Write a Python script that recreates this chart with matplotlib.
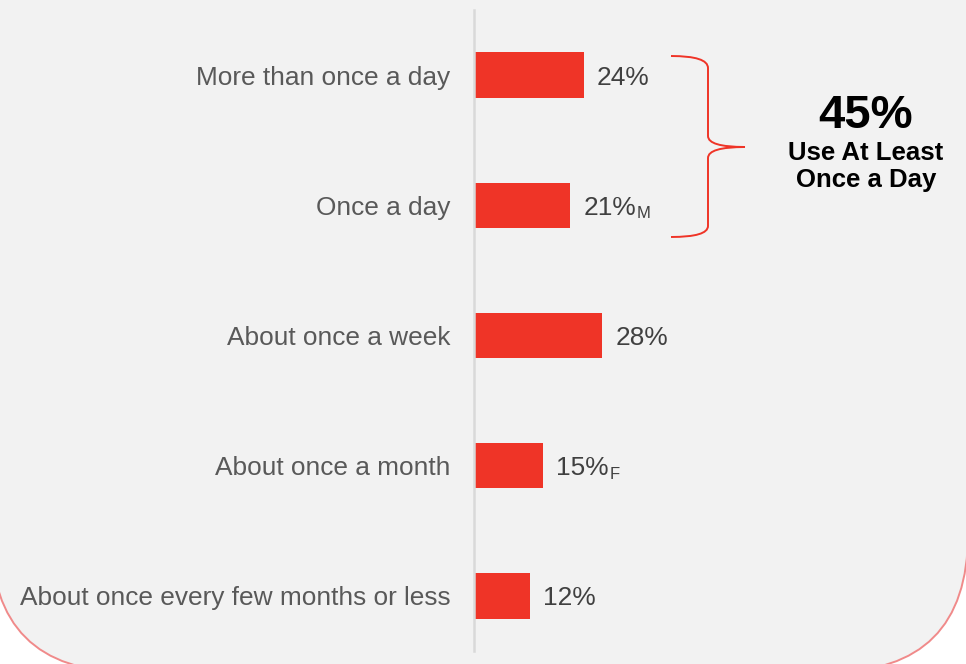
import matplotlib
matplotlib.use("Agg")
import matplotlib.pyplot as plt
from matplotlib.patches import FancyBboxPatch, PathPatch
from matplotlib.path import Path

plt.rcParams['font.family'] = ['Liberation Sans', 'DejaVu Sans']

categories = ["More than once a day", "Once a day", "About once a week",
              "About once a month", "About once every few months or less"]
values = [24, 21, 28, 15, 12]
subscripts = ["", "M", "", "F", ""]
total_label = "45%"
total_text = ["Use At Least", "Once a Day"]

RED = "#ef3427"
W, H = 966, 664

fig = plt.figure(figsize=(W / 100, H / 100), dpi=100, facecolor="white")

# background panel with rounded bottom corners (pixel coords)
bg = fig.add_axes([0, 0, 1, 1])
bg.set_xlim(0, W)
bg.set_ylim(H, 0)
bg.axis("off")
panel = FancyBboxPatch((-9, -300), 977, 972,
                       boxstyle="round,pad=0,rounding_size=138",
                       facecolor="#f2f2f2", edgecolor="#f08a8a", lw=1.4)
bg.add_patch(panel)

# brace
verts = [(671, 56), (708, 56), (708, 68), (708, 136), (708, 147), (745, 147),
         (708, 147), (708, 158), (708, 226), (708, 237), (671, 237)]
codes = [Path.MOVETO, Path.CURVE3, Path.CURVE3, Path.LINETO, Path.CURVE3, Path.CURVE3,
         Path.CURVE3, Path.CURVE3, Path.LINETO, Path.CURVE3, Path.CURVE3]
bg.add_patch(PathPatch(Path(verts, codes), facecolor="none", edgecolor=RED, lw=1.4))

bg.text(866, 111, total_label, ha="center", va="center_baseline",
        fontsize=34, fontweight="bold", color="black")
bg.text(866, 151, total_text[0], ha="center", va="center_baseline",
        fontsize=18.5, fontweight="bold", color="black")
bg.text(866, 178, total_text[1], ha="center", va="center_baseline",
        fontsize=18.5, fontweight="bold", color="black")

# bar axes
px_per = 4.55
left, right = 474, W
top, bottom = 10, 661
ax = fig.add_axes([left / W, (H - bottom) / H, (right - left) / W, (bottom - top) / H])
ax.set_facecolor("none")
ax.set_xlim(0, (right - left) / px_per)
ax.set_ylim(4.5, -0.5)

ypos = list(range(len(categories)))
ax.barh(ypos, values, height=0.35, color=RED, left=0.2)

for s in ["top", "right", "bottom"]:
    ax.spines[s].set_visible(False)
ax.spines["left"].set_color("#d9d9d9")
ax.spines["left"].set_linewidth(1.8)
ax.spines["left"].set_bounds(4.42, -0.5)
ax.set_xticks([])
ax.set_yticks(ypos)
ax.set_yticklabels(categories, fontsize=18.9, color="#595959")
ax.tick_params(axis="y", length=0, pad=17)

renderer = fig.canvas.get_renderer()
for y, v, sub in zip(ypos, values, subscripts):
    t = ax.text(v + 0.2 + 13 / px_per, y, f"{v}%", ha="left", va="center_baseline",
                fontsize=18.9, color="#404040")
    if sub:
        bb = t.get_window_extent(renderer)
        xd = ax.transData.inverted().transform((bb.x1 + 1, 0))[0]
        ax.text(xd, y + 7 / 130, sub, ha="left", va="center_baseline",
                fontsize=12, color="#404040")

fig.savefig("out.png", dpi=100, facecolor="white")
